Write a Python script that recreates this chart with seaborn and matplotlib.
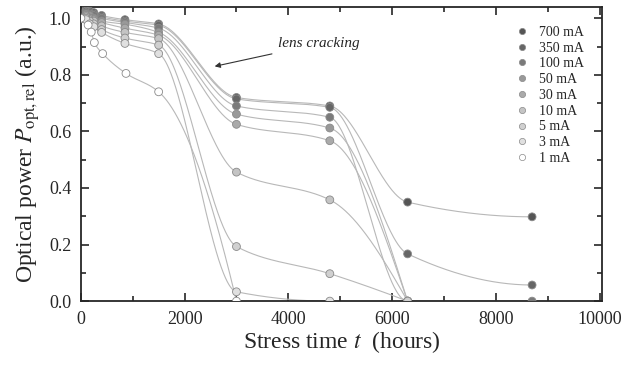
import numpy as np
import pandas as pd
import matplotlib
matplotlib.use("Agg")
import matplotlib.pyplot as plt
import seaborn as sns

# stress time (h) and relative optical power per current
currents = ['700 mA', '350 mA', '100 mA', '50 mA', '30 mA', '10 mA', '5 mA', '3 mA', '1 mA']
colors = ['#555555', '#666666', '#7a7a7a', '#999999', '#aaaaaa', '#c4c4c4', '#d0d0d0', '#e0e0e0', '#ffffff']

t_700 = [0, 100, 170, 250, 400, 850, 1500, 3000, 4800, 6300, 8700]
p_700 = [1.0, 1.03, 1.025, 1.02, 1.01, 0.995, 0.98, 0.72, 0.69, 0.35, 0.298]
t_350 = [0, 100, 170, 250, 400, 850, 1500, 3000, 4800, 6300, 8700]
p_350 = [1.0, 1.025, 1.02, 1.015, 1.005, 0.99, 0.975, 0.715, 0.685, 0.167, 0.057]
t_100 = [0, 100, 170, 250, 400, 850, 1500, 3000, 4800, 6300, 8700]
p_100 = [1.0, 1.02, 1.015, 1.01, 1.0, 0.985, 0.965, 0.69, 0.65, 0.0, 0.0]
t_50 = [0, 100, 170, 250, 400, 850, 1500, 3000, 4800, 6300]
p_50 = [1.0, 1.015, 1.01, 1.0, 0.99, 0.979, 0.95, 0.661, 0.612, 0.0]
t_30 = [0, 100, 170, 250, 400, 850, 1500, 3000, 4800, 6300]
p_30 = [1.0, 1.01, 1.0, 0.995, 0.985, 0.965, 0.94, 0.625, 0.567, 0.0]
t_10 = [0, 100, 170, 250, 400, 850, 1500, 3000, 4800, 6300]
p_10 = [1.0, 1.005, 0.995, 0.99, 0.973, 0.95, 0.928, 0.456, 0.358, 0.0]
t_5 = [0, 100, 170, 250, 400, 850, 1500, 3000, 4800, 6300]
p_5 = [1.0, 1.0, 0.99, 0.98, 0.96, 0.93, 0.905, 0.193, 0.097, 0.0]
t_3 = [0, 100, 170, 250, 400, 850, 1500, 3000, 4800]
p_3 = [1.0, 0.995, 0.98, 0.97, 0.95, 0.911, 0.875, 0.033, 0.0]
t_1 = [0, 140, 200, 260, 420, 870, 1500, 3000]
p_1 = [1.0, 0.976, 0.951, 0.914, 0.875, 0.805, 0.74, 0.0]

times = [t_700, t_350, t_100, t_50, t_30, t_10, t_5, t_3, t_1]
powers = [p_700, p_350, p_100, p_50, p_30, p_10, p_5, p_3, p_1]


def end_slope(h0, h1, d0, d1):
    m = ((2 * h0 + h1) * d0 - h0 * d1) / (h0 + h1)
    if np.sign(m) != np.sign(d0):
        m = 0.0
    elif np.sign(d0) != np.sign(d1) and abs(m) > abs(3 * d0):
        m = 3 * d0
    return m


def pchip(x, y, xs):
    # monotone cubic, only used to draw the smooth guide line
    x = np.asarray(x, float)
    y = np.asarray(y, float)
    h = np.diff(x)
    d = np.diff(y) / h
    n = len(x)
    m = np.zeros(n)
    for k in range(1, n - 1):
        if d[k - 1] * d[k] > 0:
            w1 = 2 * h[k] + h[k - 1]
            w2 = h[k] + 2 * h[k - 1]
            m[k] = (w1 + w2) / (w1 / d[k - 1] + w2 / d[k])
    m[0] = end_slope(h[0], h[1], d[0], d[1])
    m[-1] = end_slope(h[-1], h[-2], d[-1], d[-2])
    idx = np.clip(np.searchsorted(x, xs) - 1, 0, n - 2)
    s = (xs - x[idx]) / h[idx]
    h00 = 2 * s**3 - 3 * s**2 + 1
    h10 = s**3 - 2 * s**2 + s
    h01 = -2 * s**3 + 3 * s**2
    h11 = s**3 - s**2
    return h00 * y[idx] + h10 * h[idx] * m[idx] + h01 * y[idx + 1] + h11 * h[idx] * m[idx + 1]


rows = []
for c, tt, pp in zip(currents, times, powers):
    for a, b in zip(tt, pp):
        rows.append({'current': c, 't': a, 'P': b})
df = pd.DataFrame(rows)

sns.set_style("ticks")
plt.rcParams['font.family'] = ['Liberation Serif', 'DejaVu Serif']
plt.rcParams['mathtext.fontset'] = 'stix'

fig, ax = plt.subplots(figsize=(6.22, 3.65), dpi=100)
fig.subplots_adjust(left=0.130, right=0.968, top=0.981, bottom=0.175)

# guide curves
for tt, pp in zip(times, powers):
    xs = np.linspace(tt[0], tt[-1], 600)
    ax.plot(xs, pchip(tt, pp, xs), color='#b8b8b8', lw=0.8, zorder=1)

# markers, low currents first so the darker ones sit on top
palette = dict(zip(currents, colors))
sns.scatterplot(data=df, x='t', y='P', hue='current', hue_order=currents[::-1],
                palette=palette, s=32, edgecolor='#8a8a8a', linewidth=0.6,
                zorder=3, ax=ax, legend=False)

handles = [plt.Line2D([], [], ls='none', marker='o', markersize=4.5,
                      markerfacecolor=col, markeredgecolor='#8a8a8a', markeredgewidth=0.5)
           for col in colors]
ax.legend(handles, currents, loc='upper right', bbox_to_anchor=(0.975, 0.955),
          frameon=False, fontsize=10, labelspacing=0.2, handletextpad=0.7,
          handlelength=1.0, borderaxespad=0)

ax.annotate('lens cracking', xy=(2580, 0.83), xytext=(3800, 0.91),
            fontsize=11, style='italic', va='center', ha='left',
            arrowprops=dict(arrowstyle='-|>', color='#333333', lw=0.8,
                            shrinkA=2, shrinkB=0, mutation_scale=8))

ax.set_xlim(0, 10050)
ax.set_ylim(0, 1.04)
ax.set_xticks([0, 2000, 4000, 6000, 8000, 10000])
ax.set_xticks(np.arange(1000, 10001, 2000), minor=True)
ax.set_yticks([0.0, 0.2, 0.4, 0.6, 0.8, 1.0])
ax.set_yticks(np.arange(0.1, 1.0, 0.2), minor=True)
ax.set_yticklabels(['0.0', '0.2', '0.4', '0.6', '0.8', '1.0'])
ax.tick_params(which='both', direction='in', top=True, right=True, labelsize=13, width=1.2)
ax.tick_params(which='major', length=6, pad=7)
ax.tick_params(which='minor', length=3.5)
for sp in ax.spines.values():
    sp.set_linewidth(1.3)

ax.set_xlabel(r'Stress time $t$  (hours)', fontsize=17, labelpad=1)
ax.set_ylabel(r'Optical power $P_{\rm opt,rel}$ (a.u.)', fontsize=17, labelpad=5)

fig.savefig('out.png', dpi=100)
